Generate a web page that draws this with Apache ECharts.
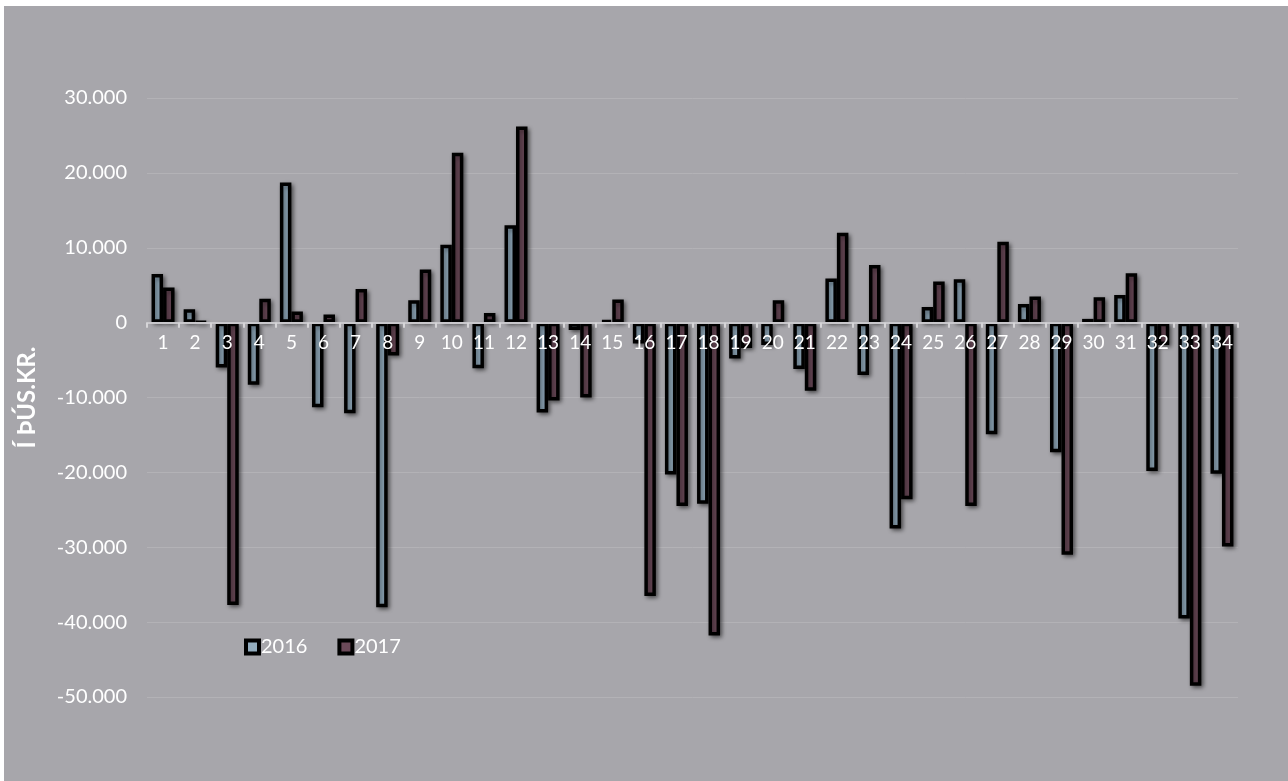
<!DOCTYPE html>
<html>
<head>
<meta charset="utf-8">
<script src="https://cdn.jsdelivr.net/npm/echarts@6/dist/echarts.min.js"></script>
<style>
html,body{margin:0;padding:0;background:#ffffff;width:1288px;height:781px;overflow:hidden;}
#c{position:absolute;left:4px;top:6px;width:1284px;height:775px;}
</style>
</head>
<body>
<div id="c"></div>
<script>
const categories = ['1','2','3','4','5','6','7','8','9','10','11','12','13','14','15','16','17','18','19','20','21','22','23','24','25','26','27','28','29','30','31','32','33','34'];
const values2016 = [6500, 1800, -6000, -8300, 18700, -11300, -12100, -38000, 3000, 10400, -6100, 13000, -12000, -1000, 300, -2800, -20300, -24200, -4800, -3000, -6200, 5900, -7000, -27500, 2100, 5800, -14900, 2500, -17300, 500, 3700, -19800, -39500, -20200];
const values2017 = [4700, 100, -37700, 3200, 1500, 1100, 4500, -4400, 7100, 22700, 1300, 26200, -10400, -10000, 3100, -36500, -24500, -41800, -3400, 3000, -9100, 12000, 7700, -23600, 5500, -24500, 10800, 3500, -31000, 3400, 6600, -3000, -48500, -29900];
const seriesNames = ['2016', '2017'];
const yAxisTitle = 'Í ÞÚS.KR.';
const yMin = -50000, yMax = 30000, yStep = 10000;

function fmt(v){
  if (v === 0) return '0';
  const s = Math.abs(v).toString().replace(/\B(?=(\d{3})+(?!\d))/g, '.');
  return (v < 0 ? '-' : '') + s;
}

const GRID_TOP = 92, GRID_BOTTOM = 84, H = 775;
const plotH = H - GRID_TOP - GRID_BOTTOM;
// distance from plot bottom up to the zero line, derived from the axis range
const zeroOffset = plotH * (0 - yMin) / (yMax - yMin);

const chart = echarts.init(document.getElementById('c'));
const FONT = 'Lato';
const barStyle = (color) => ({
  color: color,
  borderColor: '#000000',
  borderWidth: 3.5,
  shadowColor: 'rgba(0,0,0,0.45)',
  shadowBlur: 4,
  shadowOffsetX: 2,
  shadowOffsetY: 2
});
chart.setOption({
  backgroundColor: '#a7a6ab',
  animation: false,
  textStyle: { fontFamily: FONT },
  grid: { left: 143, right: 50, top: GRID_TOP, bottom: GRID_BOTTOM },
  legend: {
    left: 235, top: 626,
    itemWidth: 13, itemHeight: 13, itemGap: 30,
    icon: 'rect',
    textStyle: { color: '#ffffff', fontSize: 20, fontFamily: FONT, padding: [0,0,0,-3] },
    itemStyle: { borderColor: '#000000', borderWidth: 4 },
    data: seriesNames
  },
  xAxis: {
    type: 'category',
    data: categories,
    z: 10,
    offset: -zeroOffset,
    axisLine: { onZero: false, lineStyle: { color: '#c9c8cc', width: 2 } },
    axisTick: { show: true, alignWithLabel: false, length: 5, lineStyle: { color: '#d6d5d8', width: 2 } },
    axisLabel: { color: '#ffffff', fontSize: 19, fontFamily: FONT, margin: 11 },
    splitLine: { show: false }
  },
  yAxis: {
    type: 'value',
    min: yMin, max: yMax, interval: yStep,
    name: yAxisTitle,
    nameLocation: 'middle',
    nameGap: 108,
    nameTextStyle: { color: '#ffffff', fontSize: 24, fontWeight: 'bold', fontFamily: FONT },
    axisLine: { show: false },
    axisTick: { show: false },
    axisLabel: { color: '#ffffff', fontSize: 20, fontFamily: FONT, margin: 20, formatter: fmt },
    splitLine: { lineStyle: { color: '#b3b2b6', width: 1 } }
  },
  series: [
    { name: seriesNames[0], type: 'bar', data: values2016, barWidth: 11.5, barGap: '0%', itemStyle: barStyle('#93acbe') },
    { name: seriesNames[1], type: 'bar', data: values2017, barWidth: 11.5, barGap: '0%', itemStyle: barStyle('#6b4a59') }
  ]
});
</script>
</body>
</html>
